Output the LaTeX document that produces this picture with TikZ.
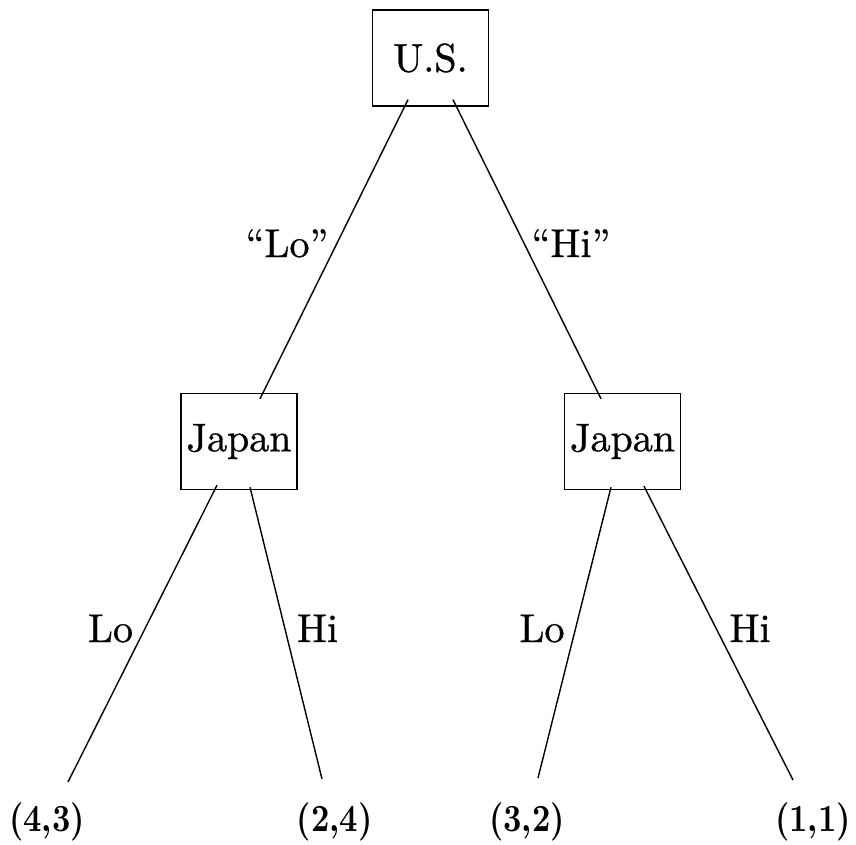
\documentclass[tikz,border=0pt]{standalone}
\usepackage{fontspec}
\newfontfamily\treefont{lmroman10-regular}[Extension=.otf,Ligatures=TeX,FakeBold=0.8]
\newfontfamily\payofffont{lmroman10-bold}[Extension=.otf]
\newcommand\tallpay[1]{\scalebox{1}[1.2]{#1}}
\begin{document}
\begin{tikzpicture}[x=1pt,y=-1pt,
  player/.style={draw,line width=1.4pt,minimum width=116pt,minimum height=96pt,inner sep=0pt,
    font=\treefont\fontsize{40}{47}\selectfont},
  move/.style={anchor=base,inner sep=0pt,font=\treefont\fontsize{40}{47}\selectfont},
  payoff/.style={anchor=base,inner sep=0pt,font=\payofffont\fontsize{32}{38}\selectfont},
  branch/.style={line width=1.4pt}]
\useasboundingbox (0,0) rectangle (856,844);

% decision nodes
\node[player] (us) at (430.5,58) {U.S.};
\node[player] (jl) at (239,441.5) {Japan};
\node[player] (jr) at (622.5,441.5) {Japan};

% terminal payoffs
\node[payoff] (p1) at (47,831) {\tallpay{(4,3)}};
\node[payoff] (p2) at (334.5,831) {\tallpay{(2,4)}};
\node[payoff] (p3) at (527,831) {\tallpay{(3,2)}};
\node[payoff] (p4) at (813,831) {\tallpay{(1,1)}};

% free ends of the lower branches
\coordinate (e1) at (68,782);
\coordinate (e2) at (322,779);
\coordinate (e3) at (538,778);
\coordinate (e4) at (793,780);

% U.S. moves
\draw[branch] ([xshift=-22.5pt,yshift=7pt]us.south) -- ([xshift=21pt,yshift=-6pt]jl.north);
\draw[branch] ([xshift=22.5pt,yshift=7pt]us.south) -- ([xshift=-21.5pt,yshift=-6pt]jr.north);

% Japan moves
\draw[branch] ([xshift=-22pt,yshift=5pt]jl.south) -- (e1);
\draw[branch] ([xshift=11pt,yshift=3pt]jl.south) -- (e2);
\draw[branch] ([xshift=-11.5pt,yshift=3pt]jr.south) -- (e3);
\draw[branch] ([xshift=21.5pt,yshift=4pt]jr.south) -- (e4);

% branch labels
\node[move] (l1) at (287,257) {“Lo”};
\node[move] (l2) at (571,257) {“Hi”};
\node[move] (l3) at (110.5,642) {Lo};
\node[move] (l4) at (317.5,642) {Hi};
\node[move] (l5) at (542,642) {Lo};
\node[move] (l6) at (750,642) {Hi};
\end{tikzpicture}
\end{document}
